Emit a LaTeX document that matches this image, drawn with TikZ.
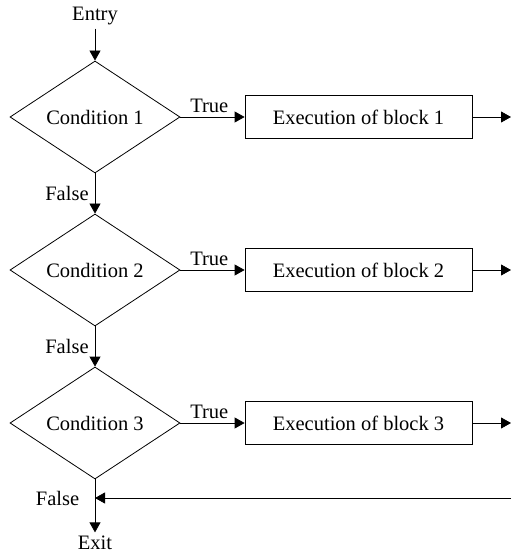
\documentclass[tikz,border=0pt]{standalone}
\usepackage{fontspec}
\setmainfont{Liberation Serif}
\usetikzlibrary{arrows.meta,shapes.geometric,positioning}

\begin{document}
\begin{tikzpicture}[x=1pt,y=1pt,node distance=153pt,on grid,auto,
    line width=0.8pt,>={Triangle[length=10pt,width=11pt]},
    font=\fontsize{20.5pt}{24pt}\selectfont]
       \tikzstyle{cond}=[draw,diamond,aspect=1.52,inner sep=1pt,minimum width=170pt,minimum height=112pt]
       \tikzstyle{block}=[draw,rectangle,minimum width=227pt,minimum height=43pt]
       \tikzstyle{lbl}=[inner sep=4pt]

       \useasboundingbox (0,0) rectangle (511,-556);

       \node (entry) at (95,-16) {Entry};
       \node[cond] (c_1) at (95,-117) {Condition 1};
       \node[cond] (c_2) [below=of c_1] {Condition 2};
       \node[cond] (c_3) [below=of c_2] {Condition 3};
       \node[block] (b_1) [right=263.5pt of c_1] {Execution of block 1};
       \node[block] (b_2) [right=263.5pt of c_2] {Execution of block 2};
       \node[block] (b_3) [right=263.5pt of c_3] {Execution of block 3};
       \node (exit) at (95,-543) {Exit};

       \coordinate (o_1) at (511,-117);
       \coordinate (o_2) at (511,-270);
       \coordinate (o_3) at (511,-423);
       \coordinate (back) at (511,-498);
       \coordinate (join) at (95,-498);

       \path[->]
       (entry) edge (c_1)
       (c_1) edge node[lbl,pos=0.45] {True} (b_1)
             edge node[lbl,swap,inner sep=6pt] {False} (c_2)
       (c_2) edge node[lbl,pos=0.45] {True} (b_2)
             edge node[lbl,swap,inner sep=6pt] {False} (c_3)
       (c_3) edge node[lbl,pos=0.45] {True} (b_3)
       (b_1) edge (o_1)
       (b_2) edge (o_2)
       (b_3) edge (o_3)
       (back) edge (join)
       (join) edge (exit);
       \draw (c_3.south) -- (join) node[left=12pt,anchor=east] {False};
     \end{tikzpicture}
\end{document}
